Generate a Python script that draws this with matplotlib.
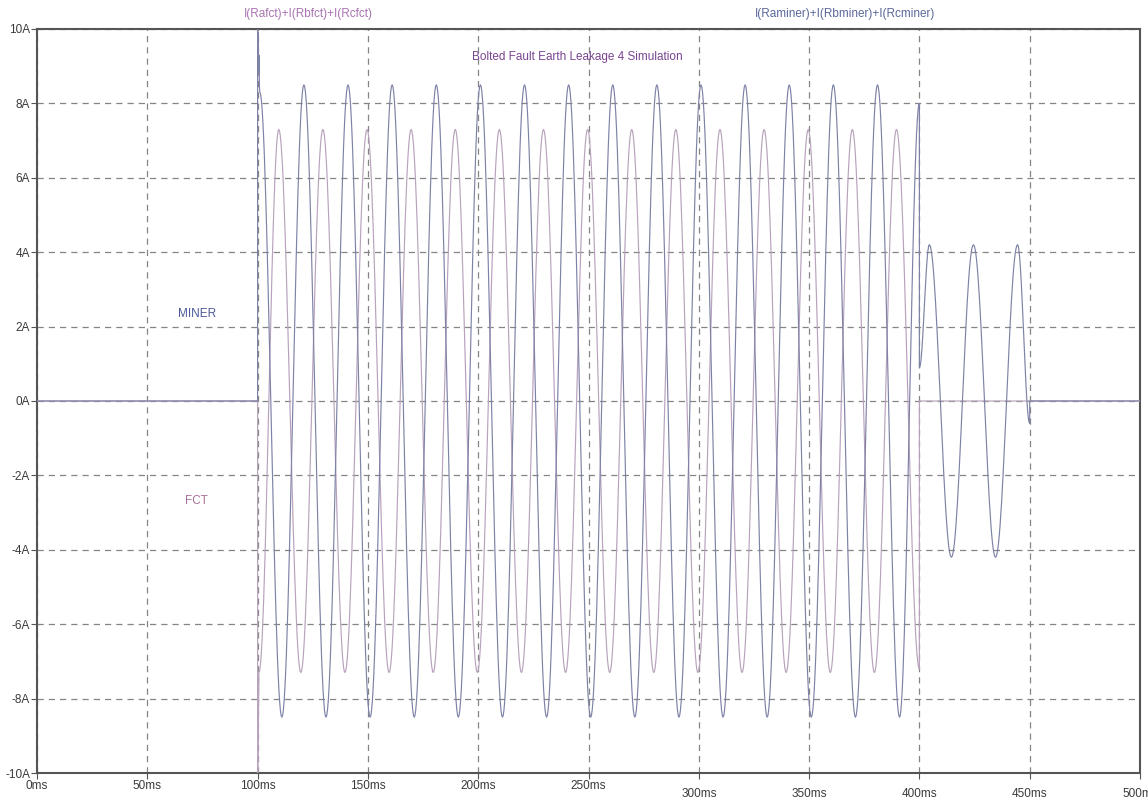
import numpy as np
import matplotlib.pyplot as plt

plt.rcParams['font.family'] = ['Liberation Sans', 'DejaVu Sans']

# MINER current: turning points of the waveform (ms, A)
miner_ms = [0, 100, 100, 100.15, 100.3, 100.45, 100.6, 100.75, 101,
            111, 121, 131, 141, 151, 161, 171, 181, 191, 201,
            211, 221, 231, 241, 251, 261, 271, 281, 291, 301,
            311, 321, 331, 341, 351, 361, 371, 381, 391,
            400, 400, 404.5, 414.5, 424.5, 434.5, 444.5, 450, 450, 500]
miner_amps = [0, 0, 10.6, 9.2, 9.9, 8.8, 9.3, 8.5, 8.3,
              -8.5, 8.5, -8.5, 8.5, -8.5, 8.5, -8.5, 8.5, -8.5, 8.5,
              -8.5, 8.5, -8.5, 8.5, -8.5, 8.5, -8.5, 8.5, -8.5, 8.5,
              -8.5, 8.5, -8.5, 8.5, -8.5, 8.5, -8.5, 8.5, -8.5,
              8.0, 0.9, 4.2, -4.2, 4.2, -4.2, 4.2, -0.6, 0, 0]

# FCT current: turning points of the waveform (ms, A)
fct_ms = [0, 100, 100, 100.3, 100.6,
          109.6, 119.6, 129.6, 139.6, 149.6, 159.6, 169.6, 179.6, 189.6, 199.6,
          209.6, 219.6, 229.6, 239.6, 249.6, 259.6, 269.6, 279.6, 289.6, 299.6,
          309.6, 319.6, 329.6, 339.6, 349.6, 359.6, 369.6, 379.6, 389.6,
          400, 400, 500]
fct_amps = [0, 0, -10.6, -8.8, -7.3,
            7.3, -7.3, 7.3, -7.3, 7.3, -7.3, 7.3, -7.3, 7.3, -7.3,
            7.3, -7.3, 7.3, -7.3, 7.3, -7.3, 7.3, -7.3, 7.3, -7.3,
            7.3, -7.3, 7.3, -7.3, 7.3, -7.3, 7.3, -7.3, 7.3,
            -7.2, 0, 0]

x_ticks = [0, 50, 100, 150, 200, 250, 300, 350, 400, 450, 500]
x_labels = ["0ms", "50ms", "100ms", "150ms", "200ms", "250ms",
            "300ms", "350ms", "400ms", "450ms", "500ms"]
y_ticks = [-10, -8, -6, -4, -2, 0, 2, 4, 6, 8, 10]
y_labels = ["-10A", "-8A", "-6A", "-4A", "-2A", "0A", "2A", "4A", "6A", "8A", "10A"]


def trace(ms, amps, n=30):
    # half-cosine between consecutive turning points
    ts, vs = [], []
    for t0, t1, a0, a1 in zip(ms[:-1], ms[1:], amps[:-1], amps[1:]):
        s = np.linspace(0, 1, n)
        ts.append(t0 + (t1 - t0) * s)
        vs.append(a0 + (a1 - a0) * (1 - np.cos(np.pi * s)) / 2)
    return np.concatenate(ts), np.concatenate(vs)


fig = plt.figure(figsize=(11.48, 8.0), dpi=100)
ax = fig.add_axes([37 / 1148, 27 / 800, 1103 / 1148, 744 / 800])

t, v = trace(fct_ms, fct_amps)
ax.plot(t, v, color='#b8a2bc', lw=0.85, zorder=3)
t, v = trace(miner_ms, miner_amps)
ax.plot(t, v, color='#7e82a6', lw=0.85, zorder=4)

ax.set_xlim(0, 500)
ax.set_ylim(-10, 10)
ax.set_xticks(x_ticks, x_labels)
ax.set_yticks(y_ticks, y_labels)
ax.grid(True, ls=(0, (5, 4)), color='#858585', lw=0.9)
ax.tick_params(direction='out', length=4, color='#555555',
               labelcolor='#3a3a3a', labelsize=8.5, pad=1)
for tk in ax.xaxis.get_major_ticks()[6:]:
    tk.set_pad(7)
for sp in ax.spines.values():
    sp.set_color('#555555')
    sp.set_linewidth(1.5)

fig.text(308 / 1148, 1 - 14 / 800, "I(Rafct)+I(Rbfct)+I(Rcfct)",
         color='#a874b0', fontsize=8.5, ha='center', va='center')
fig.text(845 / 1148, 1 - 14 / 800, "I(Raminer)+I(Rbminer)+I(Rcminer)",
         color='#5a6898', fontsize=8.5, ha='center', va='center')
ax.text(245, 9.25, "Bolted Fault Earth Leakage 4 Simulation",
        color='#7a4490', fontsize=8.5, ha='center', va='center')
ax.text(72.5, 2.35, "MINER", color='#4c5a98', fontsize=8.5, ha='center', va='center')
ax.text(72.5, -2.7, "FCT", color='#a8709a', fontsize=8.5, ha='center', va='center')

fig.savefig("out.png", dpi=100)
